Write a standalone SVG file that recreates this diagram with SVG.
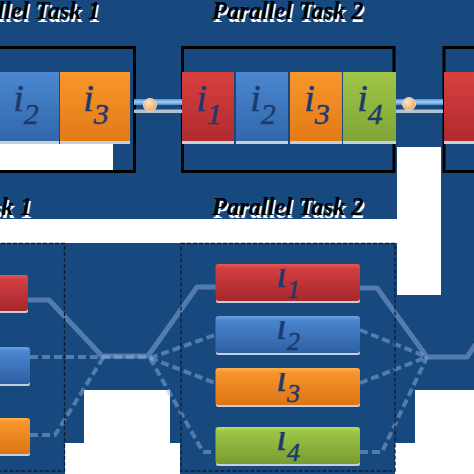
<svg xmlns="http://www.w3.org/2000/svg" width="474" height="474" viewBox="0 0 474 474">
<defs>
<style>
.title{font-family:"Liberation Serif","Times New Roman",serif;font-weight:bold;font-style:italic;font-size:24.5px}
.tsh{fill:#ffffff}
.tfg{fill:#000000}
.lbl{font-family:"Liberation Serif","Times New Roman",serif;font-style:italic;fill:#1c3a6e;stroke:#1c3a6e;stroke-width:0.5}
.frame{fill:none;stroke:#000;stroke-width:3}
.dframe{fill:none;stroke:#0b1c33;stroke-width:1.3;stroke-dasharray:4 2}
.refl{fill:#c5cfdb}
.conn{fill:none;stroke:#8fb0dc;stroke-opacity:0.5;stroke-linejoin:round}
.solid{stroke-width:5}
.dash{stroke-width:4;stroke-dasharray:8 4}
</style>
<linearGradient id="gR" x1="0" y1="0" x2="0" y2="1"><stop offset="0" stop-color="#d8403f"/><stop offset="1" stop-color="#b02a2f"/></linearGradient>
<linearGradient id="gB" x1="0" y1="0" x2="0" y2="1"><stop offset="0" stop-color="#4b88d0"/><stop offset="1" stop-color="#3266aa"/></linearGradient>
<linearGradient id="gO" x1="0" y1="0" x2="0" y2="1"><stop offset="0" stop-color="#f8972a"/><stop offset="1" stop-color="#e27a18"/></linearGradient>
<linearGradient id="gG" x1="0" y1="0" x2="0" y2="1"><stop offset="0" stop-color="#9fc747"/><stop offset="1" stop-color="#80a436"/></linearGradient>
<linearGradient id="bR" x1="0" y1="0" x2="0" y2="1"><stop offset="0" stop-color="#e45a58"/><stop offset="0.12" stop-color="#d23e40"/><stop offset="1" stop-color="#a6282d"/></linearGradient>
<linearGradient id="bB" x1="0" y1="0" x2="0" y2="1"><stop offset="0" stop-color="#6aa2e2"/><stop offset="0.12" stop-color="#4a86cf"/><stop offset="1" stop-color="#2e5fa3"/></linearGradient>
<linearGradient id="bO" x1="0" y1="0" x2="0" y2="1"><stop offset="0" stop-color="#ffb050"/><stop offset="0.12" stop-color="#f8952a"/><stop offset="1" stop-color="#dc7414"/></linearGradient>
<linearGradient id="bG" x1="0" y1="0" x2="0" y2="1"><stop offset="0" stop-color="#b8dc60"/><stop offset="0.12" stop-color="#9cc545"/><stop offset="1" stop-color="#789c30"/></linearGradient>
<linearGradient id="tube" x1="0" y1="0" x2="0" y2="1"><stop offset="0" stop-color="#4f8fd8"/><stop offset="0.5" stop-color="#a6d0f4"/><stop offset="1" stop-color="#4a86cc"/></linearGradient>
<radialGradient id="ball" cx="0.4" cy="0.35" r="0.7"><stop offset="0" stop-color="#ffe6c4"/><stop offset="1" stop-color="#f0a455"/></radialGradient>
<clipPath id="c1"><rect x="215" y="269" width="145" height="33"/></clipPath>
<clipPath id="c2"><rect x="215" y="321" width="145" height="33"/></clipPath>
<clipPath id="c3"><rect x="215" y="373" width="145" height="33"/></clipPath>
<clipPath id="c4"><rect x="215" y="432" width="145" height="33"/></clipPath>
</defs>

<g id="background">
<rect x="0" y="0" width="474" height="474" fill="#ffffff"/>
<path fill="#17497f" d="M0,0H474V295H441V147H397V219H0Z M0,243H397V295H0Z M441,147H474V295H441Z M0,295H474V390H0Z M0,390H84V443H0Z M170,390H415V443H170Z M0,443H65V474H0Z M180,443H395V474H180Z"/>
<rect x="0" y="144" width="113" height="26" fill="#ffffff"/>
</g>

<g id="titles">
<text class="title tsh" x="101.5" y="21.5" text-anchor="end">Parallel Task 1</text>
<text class="title tfg" x="100" y="19" text-anchor="end">Parallel Task 1</text>
<text class="title tsh" x="213.5" y="21.5">Parallel Task 2</text>
<text class="title tfg" x="212" y="19">Parallel Task 2</text>
<text class="title tsh" x="33.5" y="217.5" text-anchor="end">Parallel Task 1</text>
<text class="title tfg" x="32" y="215" text-anchor="end">Parallel Task 1</text>
<text class="title tsh" x="213.5" y="217.5">Parallel Task 2</text>
<text class="title tfg" x="212" y="215">Parallel Task 2</text>
</g>

<g id="top-frames">
<rect id="frame-top-1" class="frame" x="-10" y="47.5" width="144.5" height="124"/>
<rect id="frame-top-2" class="frame" x="182.5" y="47.5" width="211.5" height="124"/>
<rect id="frame-top-3" class="frame" x="444" y="47.5" width="40" height="124"/>
</g>

<g id="connectors">
<g id="top-link-1">
<rect x="134" y="99" width="48" height="6" fill="url(#tube)"/>
<rect x="134" y="109.5" width="48" height="3.5" fill="#b3c1d3"/>
<circle cx="150" cy="105" r="6.5" fill="url(#ball)" stroke="#d6dbe2" stroke-width="1"/>
</g>
<g id="top-link-2">
<rect x="396" y="99" width="47" height="6" fill="url(#tube)"/>
<rect x="396" y="109.5" width="47" height="3.5" fill="#b3c1d3"/>
<circle cx="409" cy="104" r="6.5" fill="url(#ball)" stroke="#d6dbe2" stroke-width="1"/>
</g>
<path class="conn solid" d="M28,300H49L102,356H148L197,287H216"/>
<path class="conn dash" d="M30,357H148"/>
<path class="conn dash" d="M30,435H55L103,358"/>
<path class="conn dash" d="M150,358L215,335"/>
<path class="conn dash" d="M150,358L215,383"/>
<path class="conn dash" d="M150,358L203,452H215"/>
<path class="conn solid" d="M360,288H377L427,357H467L476,344"/>
<path class="conn dash" d="M360,330L427,357"/>
<path class="conn dash" d="M360,383L427,357"/>
<path class="conn dash" d="M360,452H382L427,357"/>
</g>

<g id="t1-i2">
<rect class="refl" x="-10" y="139" width="69" height="5"/>
<rect x="-10" y="72" width="69" height="69" fill="url(#gB)"/>
<text class="lbl" x="26" y="111" text-anchor="middle" font-size="38">i<tspan font-size="30" dy="13">2</tspan></text>
</g>
<g id="t1-i3">
<rect class="refl" x="60" y="139" width="70" height="5"/>
<rect x="60" y="72" width="70" height="69" fill="url(#gO)"/>
<text class="lbl" x="96" y="111" text-anchor="middle" font-size="38">i<tspan font-size="30" dy="13">3</tspan></text>
</g>
<g id="t2-i1">
<rect class="refl" x="182" y="139" width="52" height="5"/>
<rect x="182" y="72" width="52" height="69" fill="url(#gR)"/>
<text class="lbl" x="209" y="111" text-anchor="middle" font-size="38">i<tspan font-size="30" dy="13">1</tspan></text>
</g>
<g id="t2-i2">
<rect class="refl" x="236" y="139" width="52" height="5"/>
<rect x="236" y="72" width="52" height="69" fill="url(#gB)"/>
<text class="lbl" x="263" y="111" text-anchor="middle" font-size="38">i<tspan font-size="30" dy="13">2</tspan></text>
</g>
<g id="t2-i3">
<rect class="refl" x="290" y="139" width="52" height="5"/>
<rect x="290" y="72" width="52" height="69" fill="url(#gO)"/>
<text class="lbl" x="317" y="111" text-anchor="middle" font-size="38">i<tspan font-size="30" dy="13">3</tspan></text>
</g>
<g id="t2-i4">
<rect class="refl" x="343" y="139" width="53" height="5"/>
<rect x="343" y="72" width="53" height="69" fill="url(#gG)"/>
<text class="lbl" x="370" y="111" text-anchor="middle" font-size="38">i<tspan font-size="30" dy="13">4</tspan></text>
</g>
<g id="t3-i1">
<rect class="refl" x="444" y="139" width="35" height="5"/>
<rect x="444" y="72" width="35" height="69" fill="url(#gR)"/>
</g>

<g id="bottom-frames">
<rect id="frame-bottom-1" class="dframe" x="-5" y="243.5" width="69.5" height="227.5"/>
<rect id="frame-bottom-2" class="dframe" x="181" y="243.5" width="214" height="227.5"/>
</g>

<g id="b1-red">
<rect class="refl" x="-5" y="308" width="33" height="5" rx="2"/>
<rect x="-5" y="275" width="33" height="36" rx="3" fill="url(#bR)"/>
</g>
<g id="b1-blue">
<rect class="refl" x="-5" y="381" width="35" height="5" rx="2"/>
<rect x="-5" y="347" width="35" height="37" rx="3" fill="url(#bB)"/>
</g>
<g id="b1-orange">
<rect class="refl" x="-5" y="451" width="35" height="5" rx="2"/>
<rect x="-5" y="418" width="35" height="36" rx="3" fill="url(#bO)"/>
</g>

<g id="b2-i1">
<rect class="refl" x="216" y="298" width="144" height="5" rx="2"/>
<rect x="215.5" y="264" width="144.5" height="37" rx="3" fill="url(#bR)"/>
<text class="lbl" clip-path="url(#c1)" x="288" y="287" text-anchor="middle" font-size="40">i<tspan font-size="26" dy="11">1</tspan></text>
</g>
<g id="b2-i2">
<rect class="refl" x="216" y="350" width="144" height="5" rx="2"/>
<rect x="215.5" y="316" width="144.5" height="37" rx="3" fill="url(#bB)"/>
<text class="lbl" clip-path="url(#c2)" x="288" y="339" text-anchor="middle" font-size="40">i<tspan font-size="26" dy="11">2</tspan></text>
</g>
<g id="b2-i3">
<rect class="refl" x="216" y="402" width="144" height="5" rx="2"/>
<rect x="215.5" y="368" width="144.5" height="37" rx="3" fill="url(#bO)"/>
<text class="lbl" clip-path="url(#c3)" x="288" y="391" text-anchor="middle" font-size="40">i<tspan font-size="26" dy="11">3</tspan></text>
</g>
<g id="b2-i4">
<rect class="refl" x="216" y="461" width="144" height="5" rx="2"/>
<rect x="215.5" y="427" width="144.5" height="37" rx="3" fill="url(#bG)"/>
<text class="lbl" clip-path="url(#c4)" x="288" y="450" text-anchor="middle" font-size="40">i<tspan font-size="26" dy="11">4</tspan></text>
</g>
</svg>
